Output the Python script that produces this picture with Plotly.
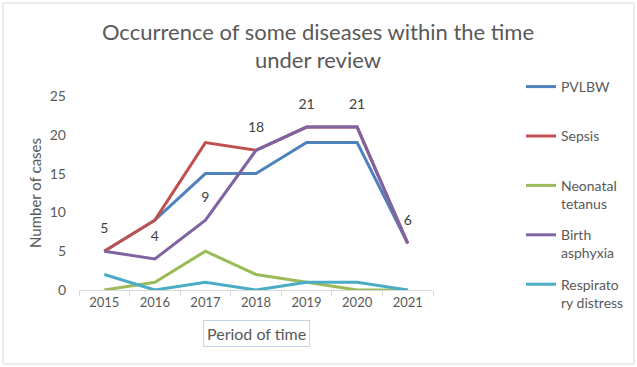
import plotly.graph_objects as go

years = ["2015", "2016", "2017", "2018", "2019", "2020", "2021"]
pvlbw = [5, 9, 15, 15, 19, 19, 6]
sepsis = [5, 9, 19, 18, 21, 21, 6]
neonatal_tetanus = [0, 1, 5, 2, 1, 0, 0]
birth_asphyxia = [5, 4, 9, 18, 21, 21, 6]
respiratory_distress = [2, 0, 1, 0, 1, 1, 0]

series = [
    ("PVLBW<br> ", pvlbw, "#4F81BD"),
    ("Sepsis<br> ", sepsis, "#C0504D"),
    ("Neonatal<br>tetanus", neonatal_tetanus, "#9BBB59"),
    ("Birth<br>asphyxia", birth_asphyxia, "#8064A2"),
    ("Respirato<br>ry distress", respiratory_distress, "#4BACC6"),
]

FONT = "Lato"
GRAY = "#595959"

fig = go.Figure()
for i, (name, vals, color) in enumerate(series):
    is_label = name.startswith("Birth")
    fig.add_trace(go.Scatter(
        x=years, y=vals, name=name, legendgroup=f"g{i}",
        mode="lines+markers+text" if is_label else "lines",
        line=dict(color=color, width=3),
        marker=dict(size=22, color="rgba(0,0,0,0)") if is_label else None,
        text=[str(v) for v in vals] if is_label else None,
        textposition="top center",
        textfont=dict(family=FONT, size=14, color="#404040"),
        cliponaxis=False,
    ))

fig.update_layout(
    width=637, height=367,
    margin=dict(l=79, r=204, t=96, b=77, autoexpand=False),
    paper_bgcolor="white", plot_bgcolor="white",
    font=dict(family=FONT, color=GRAY),
    title=dict(
        text="Occurrence of some diseases within the time<br>under review",
        x=318 / 637, xref="container", xanchor="center",
        y=1 - 39.5 / 367, yref="container", yanchor="middle",
        font=dict(family=FONT, size=22, color=GRAY),
    ),
    showlegend=True,
    legend=dict(
        x=(521 - 79) / 354, xanchor="left", y=(290 - 71) / 194, yanchor="top",
        font=dict(family=FONT, size=14, color=GRAY),
        valign="top", tracegroupgap=10, maxheight=400,
        bgcolor="rgba(0,0,0,0)",
    ),
    xaxis=dict(
        type="category", range=[-0.5, 6.5],
        showline=True, linecolor="#D9D9D9", linewidth=1,
        ticks="outside", tickson="boundaries", ticklen=5, tickcolor="#D9D9D9",
        showgrid=False, zeroline=False,
        tickfont=dict(family=FONT, size=13, color=GRAY),
    ),
    yaxis=dict(
        range=[0, 25], dtick=5,
        showline=False, showgrid=False, zeroline=False,
        ticklabelstandoff=12,
        tickfont=dict(family=FONT, size=14, color=GRAY),
        title=dict(text="Number of cases", font=dict(family=FONT, size=15, color=GRAY), standoff=4),
    ),
    shapes=[dict(type="rect", xref="paper", yref="paper",
                 x0=(3 - 79) / 354, x1=(634 - 79) / 354,
                 y0=(290 - 364) / 194, y1=(290 - 3) / 194,
                 line=dict(color="#D9D9D9", width=1), layer="below")],
    annotations=[dict(
        text="Period of time", xref="paper", yref="paper",
        x=(256 - 79) / 354, y=(290 - 333) / 194, xanchor="center", yanchor="middle",
        showarrow=False, font=dict(family=FONT, size=16, color=GRAY),
        bordercolor="#BDD7EE", borderwidth=1, borderpad=3, bgcolor="white",
    )],
)

fig.write_html("out.html", config={"displayModeBar": False},
               post_script="document.body.style.margin='0';document.body.style.overflow='hidden';")
